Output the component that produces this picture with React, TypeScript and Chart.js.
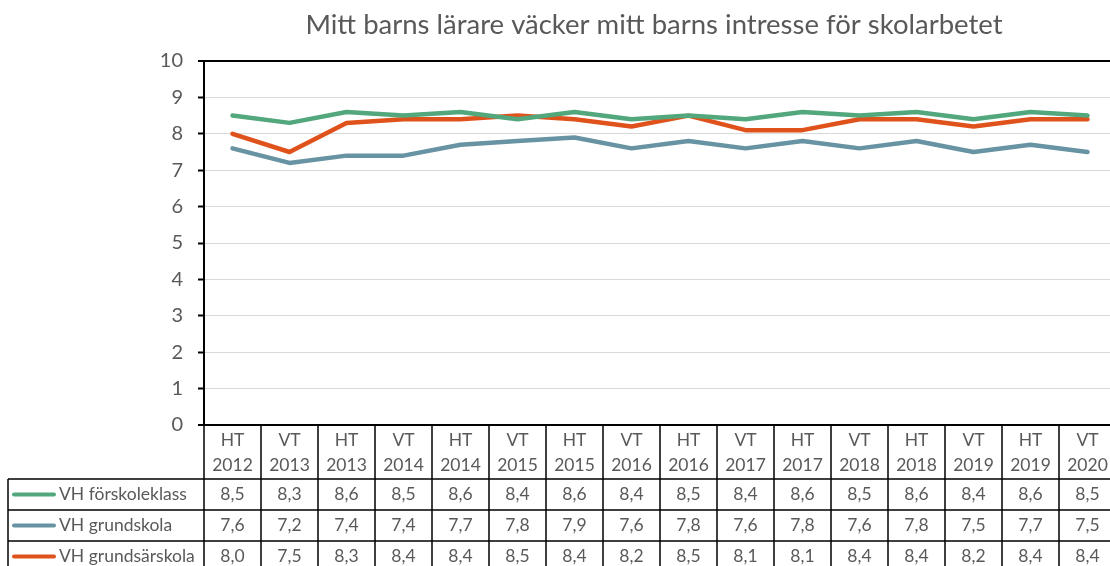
import React, { useEffect, useRef } from "react";
import { Chart, registerables } from "chart.js";

Chart.register(...registerables);

const TITLE = "Mitt barns lärare väcker mitt barns intresse för skolarbetet";
const terms = ["HT", "VT", "HT", "VT", "HT", "VT", "HT", "VT", "HT", "VT", "HT", "VT", "HT", "VT", "HT", "VT"];
const years = ["2012", "2013", "2013", "2014", "2014", "2015", "2015", "2016", "2016", "2017", "2017", "2018", "2018", "2019", "2019", "2020"];
const categories = terms.map((t, i) => `${t} ${years[i]}`);

const seriesNames = ["VH förskoleklass", "VH grundskola", "VH grundsärskola"];
const forskoleklass = [8.5, 8.3, 8.6, 8.5, 8.6, 8.4, 8.6, 8.4, 8.5, 8.4, 8.6, 8.5, 8.6, 8.4, 8.6, 8.5];
const grundskola = [7.6, 7.2, 7.4, 7.4, 7.7, 7.8, 7.9, 7.6, 7.8, 7.6, 7.8, 7.6, 7.8, 7.5, 7.7, 7.5];
const grundsarskola = [8.0, 7.5, 8.3, 8.4, 8.4, 8.5, 8.4, 8.2, 8.5, 8.1, 8.1, 8.4, 8.4, 8.2, 8.4, 8.4];
const seriesColors = ["#52a77c", "#6893a3", "#e0521b"];

const Y_MIN = 0;
const Y_MAX = 10;
const Y_STEP = 1;

const FONT = "Lato, 'Open Sans', sans-serif";
const TEXT = "#595959";

const fmt = (v: number) => v.toFixed(1).replace(".", ",");

const tablePlugin = {
  id: "dataTable",
  afterDraw(chart: any) {
    const ctx = chart.ctx as CanvasRenderingContext2D;
    const xs = chart.scales.x;
    const ys = chart.scales.y;
    const area = chart.chartArea;
    const n = categories.length;
    const colW = (area.right - area.left) / n;
    const top = ys.getPixelForValue(Y_MIN);
    const headerH = 54;
    const rowH = 31;
    const tableLeft = 8;
    const bottom = top + headerH + rowH * 3 + 4;
    const allSeries = [forskoleklass, grundskola, grundsarskola];

    ctx.save();
    // title
    ctx.fillStyle = TEXT;
    ctx.font = `27.5px ${FONT}`;
    ctx.textAlign = "center";
    ctx.textBaseline = "middle";
    ctx.fillText(TITLE, 654, 25);

    // header labels
    ctx.font = `17.5px ${FONT}`;
    categories.forEach((_, i) => {
      const cx = xs.getPixelForValue(i);
      ctx.fillText(terms[i], cx, top + 15);
      ctx.fillText(years[i], cx, top + 40);
    });
    // data values
    allSeries.forEach((vals, r) => {
      const cy = top + headerH + rowH * r + rowH / 2;
      vals.forEach((v, i) => {
        ctx.fillText(fmt(v), xs.getPixelForValue(i), cy);
      });
    });
    // legend
    ctx.font = `17.5px ${FONT}`;
    allSeries.forEach((_, r) => {
      const cy = top + headerH + rowH * r + rowH / 2;
      ctx.strokeStyle = seriesColors[r];
      ctx.lineWidth = 4;
      ctx.lineCap = "round";
      ctx.beginPath();
      ctx.moveTo(14, cy);
      ctx.lineTo(54, cy);
      ctx.stroke();
      ctx.textAlign = "left";
      ctx.fillText(seriesNames[r], 59, cy);
      ctx.textAlign = "center";
    });

    // grid lines
    ctx.strokeStyle = "#000";
    ctx.lineWidth = 1.5;
    ctx.lineCap = "butt";
    ctx.beginPath();
    for (let i = 1; i <= n; i++) {
      const x = area.left + colW * i;
      ctx.moveTo(x, top);
      ctx.lineTo(x, bottom);
    }
    ctx.moveTo(area.left, top);
    ctx.lineTo(area.left, bottom);
    ctx.moveTo(tableLeft, top + headerH);
    ctx.lineTo(tableLeft, bottom);
    for (let r = 0; r <= 3; r++) {
      const y = top + headerH + rowH * r;
      ctx.moveTo(tableLeft, y);
      ctx.lineTo(area.right + 10, y);
    }
    ctx.stroke();
    ctx.restore();
  },
};

export default function App() {
  const ref = useRef<HTMLCanvasElement | null>(null);

  useEffect(() => {
    if (!ref.current) return;
    const chart = new Chart(ref.current, {
      type: "line",
      data: {
        labels: categories,
        datasets: [forskoleklass, grundskola, grundsarskola].map((d, i) => ({
          label: seriesNames[i],
          data: d,
          borderColor: seriesColors[i],
          backgroundColor: seriesColors[i],
          borderWidth: 4.5,
          pointRadius: 0,
          tension: 0,
          borderCapStyle: "round",
          borderJoinStyle: "round",
        })),
      },
      options: {
        responsive: false,
        animation: false,
        devicePixelRatio: 1,
        layout: { padding: { left: 144, top: 61, right: 4, bottom: 141 } },
        plugins: {
          legend: { display: false },
          title: { display: false },
          tooltip: { enabled: false },
        },
        scales: {
          x: {
            type: "category",
            offset: true,
            display: false,
          },
          y: {
            min: Y_MIN,
            max: Y_MAX,
            afterFit: (scale: any) => {
              scale.width = 60;
            },
            ticks: {
              stepSize: Y_STEP,
              color: TEXT,
              font: { family: FONT, size: 20 },
              padding: 15,
            },
            grid: {
              color: (c: any) => (c.tick && (c.tick.value === Y_MIN || c.tick.value === Y_MAX) ? "#000" : "#d9d9d9"),
              lineWidth: (c: any) => (c.tick && (c.tick.value === Y_MIN || c.tick.value === Y_MAX) ? 2 : 1),
              tickColor: "#000",
              tickLength: 6,
              tickWidth: 2,
            },
            border: { color: "#000", width: 2 },
          },
        },
      },
      plugins: [tablePlugin],
    });
    return () => chart.destroy();
  }, []);

  return (
    <div
      style={{
        position: "fixed",
        left: 0,
        top: 0,
        width: 1110,
        height: 566,
        overflow: "hidden",
        background: "#fff",
      }}
    >
      <canvas ref={ref} width={1120} height={566} style={{ display: "block" }} />
    </div>
  );
}
